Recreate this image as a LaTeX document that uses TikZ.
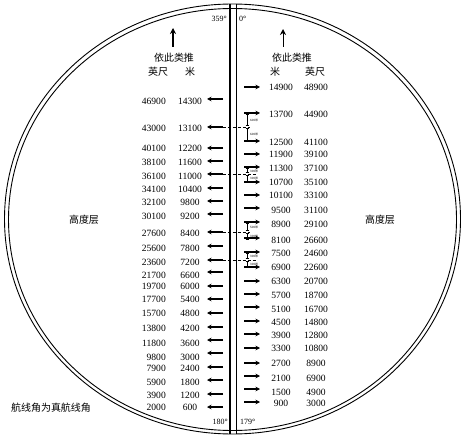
\documentclass[tikz,border=0pt]{standalone}
\usepackage{fontspec}
\setmainfont{Liberation Serif}
\newfontfamily\cjk{Noto Sans CJK SC}
\usetikzlibrary{arrows.meta}
\begin{document}
\begin{tikzpicture}[x=1bp,y=-1bp,
  num/.style={font=\fontsize{9.6}{10}\selectfont, inner sep=0pt},
  zh/.style={font=\cjk\fontsize{10}{12}\selectfont, inner sep=0pt},
  tiny/.style={font=\cjk\fontsize{3}{3}\selectfont, inner sep=0pt, anchor=west},
  deg/.style={font=\fontsize{8}{9}\selectfont, inner sep=0pt},
  harr/.style={-{Stealth[length=4.5bp,width=4.5bp]}, line width=1.3bp},
  uparr/.style={-{Stealth[length=6bp,width=6bp]}},
  dashln/.style={densely dashed, line width=0.5bp},
  dim/.style={line width=0.4bp},
  rim/.style={line width=0.9bp}]
\useasboundingbox (0,0) rectangle (463,440);
% rim
\draw[rim] (232.5,219) ellipse [x radius=228, y radius=215];
\draw[rim] (232.5,219.5) ellipse [x radius=224, y radius=211];
% centre double line
\coordinate (ct1) at (230,4);
\coordinate (cb1) at (230,434);
\coordinate (ct2) at (236.5,4);
\coordinate (cb2) at (236.5,434);
\draw[line width=1.1bp] (ct1) -- (cb1);
\draw[line width=0.8bp] (ct2) -- (cb2);
% degree labels
\node[deg, anchor=east] (d359) at (227,19) {359°};
\node[deg, anchor=west] (d0) at (239,19) {0°};
\node[deg, anchor=east] (d180) at (228,422) {180°};
\node[deg, anchor=west] (d179) at (240,422) {179°};
% up arrows
\coordinate (ua1) at (173,47);
\coordinate (ua2) at (173,28);
\coordinate (ub1) at (283,47);
\coordinate (ub2) at (283,29);
\draw[uparr, line width=2bp] (ua1) -- (ua2);
\draw[uparr, line width=1bp] (ub1) -- (ub2);
% headers
\node[zh] (hl) at (174,58) {依此类推};
\node[zh] (hr) at (292,58) {依此类推};
\node[zh] (hlf) at (158,72) {英尺};
\node[zh] (hlm) at (190,72) {米};
\node[zh] (hrm) at (275,72) {米};
\node[zh] (hrf) at (315,72) {英尺};
\node[zh] (gl) at (84,220) {高度层};
\node[zh] (gr) at (380,220) {高度层};
\node[zh] (note) at (51,408) {航线角为真航线角};
% left column
\foreach \f/\m/\y/\a [count=\i] in {46900/14300/101/99,43000/13100/128/127,40100/12200/148/148,38100/11600/162/161,36100/11000/176/174,34100/10400/189/188,32100/9800/202/201,30100/9200/216/214,27600/8400/233/232,25600/7800/248/246,23600/7200/262/260,21700/6600/275/272,19700/6000/286/286,17700/5400/299/299,15700/4800/313/313,13800/4200/328/327,11800/3600/343/340,9800/3000/357/353,7900/2400/368/367,5900/1800/382/380,3900/1200/395/394,2000/600/407/407}{
  \node[num, anchor=east] (lf\i) at (166,\y) {\f};
  \node[num] (lm\i) at (190,\y) {\m};
  \coordinate (la\i) at (223,\a);
  \coordinate (lb\i) at (207,\a);
  \draw[harr] (la\i) -- (lb\i);
}
% right column
\foreach \m/\f/\y/\a [count=\i] in {14900/48900/87/87,13700/44900/114/113,12500/41100/142/141,11900/39100/154/154,11300/37100/168/167,10700/35100/182/182,10100/33100/195/195,9500/31100/210/208,8900/29100/224/222,8100/26600/240/238,7500/24600/253/252,6900/22600/267/267,6300/20700/281/281,5700/18700/295/294,5100/16700/309/307,4500/14800/322/321,3900/12800/335/334,3300/10800/348/348,2700/8900/363/363,2100/6900/378/376,1500/4900/392/389,900/3000/403/402}{
  \node[num] (rm\i) at (281,\y) {\m};
  \node[num] (rf\i) at (316,\y) {\f};
  \coordinate (ra\i) at (244,\a);
  \coordinate (rb\i) at (260,\a);
  \draw[harr] (ra\i) -- (rb\i);
}
% dimension groups: dashed line from left arrow, two spans with labels
\foreach \yd/\xe/\ya/\yb/\ta/\tb/\la/\lb [count=\j] in
  {127/250/114/140/120/134/600米/600米,
   174/257/168/181/171/178/300米/300米,
   232/250/223/239/227/236/500米/300米,
   260/256/253/266/256/264/300米/300米}{
  \coordinate (ds\j) at (223,\yd);
  \coordinate (de\j) at (\xe,\yd);
  \draw[dashln] (ds\j) -- (de\j);
  \coordinate (v1\j) at (247,\ya);
  \coordinate (v2\j) at (247,\yd-1.5);
  \coordinate (v3\j) at (247,\yd+1.5);
  \coordinate (v4\j) at (247,\yb);
  \draw[dim] (v1\j) -- (v2\j) (v3\j) -- (v4\j);
  \draw[dim] ([xshift=-1.5bp]v1\j) -- ([xshift=1.5bp]v1\j)
             ([xshift=-1.5bp]v2\j) -- ([xshift=1.5bp]v2\j)
             ([xshift=-1.5bp]v3\j) -- ([xshift=1.5bp]v3\j)
             ([xshift=-1.5bp]v4\j) -- ([xshift=1.5bp]v4\j);
  \node[tiny] (ta\j) at (250,\ta) {\la};
  \node[tiny] (tb\j) at (250,\tb) {\lb};
}
\end{tikzpicture}
\end{document}
